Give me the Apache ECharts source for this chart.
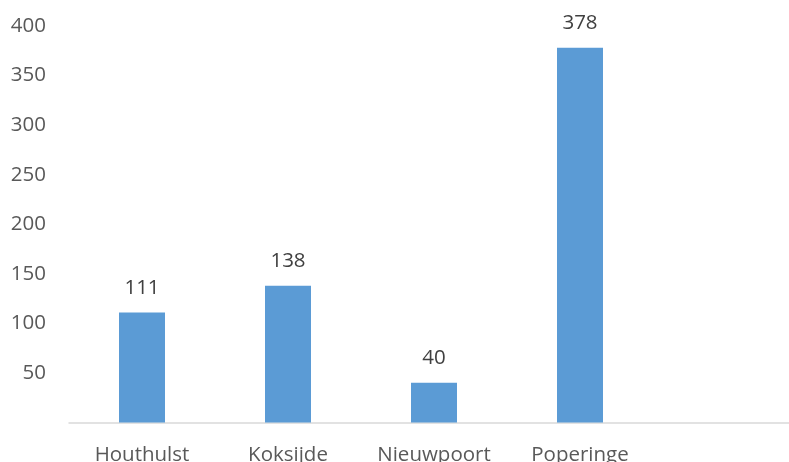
<!DOCTYPE html>
<html>
<head>
<meta charset="utf-8">
<script src="https://cdn.jsdelivr.net/npm/echarts@6/dist/echarts.min.js"></script>
<style>html,body{margin:0;padding:0;background:#fff;overflow:hidden;width:789px;height:462px;}#c{width:799px;height:462px;}</style>
</head>
<body>
<div id="c"></div>
<script>
var categories = ['Houthulst', 'Koksijde', 'Nieuwpoort', 'Poperinge', ''];
var values = [111, 138, 40, 378, null];
var chart = echarts.init(document.getElementById('c'), null, {renderer: 'canvas'});
chart.setOption({
  animation: false,
  grid: {left: 69, top: 26, width: 730, height: 396.5, containLabel: false, outerBoundsMode: 'none'},
  xAxis: {
    type: 'category',
    data: categories,
    axisLine: {lineStyle: {color: '#D9D9D9', width: 1.5}},
    axisTick: {show: false},
    axisLabel: {color: '#595959', fontFamily: 'Open Sans', fontSize: 20.5, margin: 22, interval: 0}
  },
  yAxis: {
    type: 'value',
    min: 0, max: 400, interval: 50,
    axisLine: {show: false},
    axisTick: {show: false},
    splitLine: {show: false},
    axisLabel: {
      color: '#595959', fontFamily: 'Open Sans', fontSize: 20.5, margin: 23,
      formatter: function (v) { return v === 0 ? '' : String(v); }
    }
  },
  series: [{
    type: 'bar',
    data: values,
    barWidth: 46,
    itemStyle: {color: '#5B9BD5'},
    label: {show: true, position: 'top', distance: 14, color: '#404040', fontFamily: 'Open Sans', fontSize: 20.5}
  }]
});
</script>
</body>
</html>
